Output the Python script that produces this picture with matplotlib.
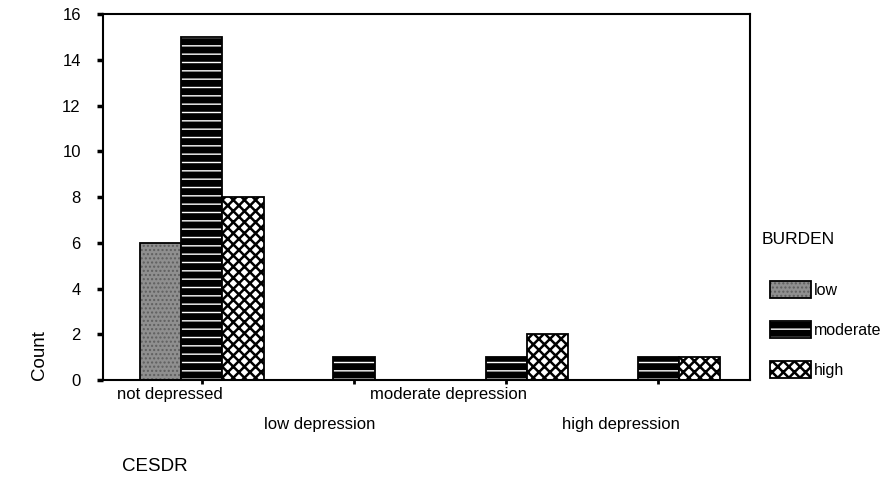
import numpy as np
import matplotlib.pyplot as plt
from matplotlib.patches import Patch, Rectangle
from matplotlib.legend_handler import HandlerTuple, HandlerPatch

plt.rcParams['font.family'] = ['Liberation Sans', 'DejaVu Sans']
plt.rcParams['hatch.linewidth'] = 1.0

categories = ["not depressed", "low depression", "moderate depression", "high depression"]
burden = ["low", "moderate", "high"]
low = [6, 0, 0, 0]
moderate = [15, 1, 1, 1]
high = [8, 0, 2, 1]

fig = plt.figure(figsize=(8.84, 4.8), dpi=100)
ax = fig.add_axes([0.1165, 0.2083, 0.7315, 0.7625])

x = np.arange(len(categories))
w = 0.27


def thick(patches, lw=1.8):
    for p in patches:
        try:
            p.set_hatch_linewidth(lw)
        except AttributeError:
            pass


# low: grey speckled
ax.bar(x - w, low, w, color="#8f8f8f", hatch="....", edgecolor="#5f5f5f", linewidth=0)
ax.bar(x - w, low, w, fill=False, edgecolor="black", linewidth=1.3)
# moderate: black with white horizontal lines
ax.bar(x, moderate, w, color="black", hatch="--", edgecolor="white", linewidth=0)
ax.bar(x, moderate, w, fill=False, edgecolor="black", linewidth=1.3)
# high: white with black cross-hatch
hb = ax.bar(x + w, high, w, color="white", hatch="xxx", edgecolor="black", linewidth=1.3)
thick(hb)

ax.set_xlim(-0.65, 3.6)
ax.set_ylim(0, 16)
ax.set_yticks(range(0, 17, 2))
ax.tick_params(axis='y', length=4, width=2.5, labelsize=12, pad=12)
ax.set_xticks(x)
ax.set_xticklabels([])
ax.tick_params(axis='x', length=3, width=2)
for s in ax.spines.values():
    s.set_linewidth(1.5)

for i, c in enumerate(categories):
    ax.text(i + 0.14, -0.3 if i % 2 == 0 else -1.6, c, ha='right', va='top',
            fontsize=12, transform=ax.transData)

fig.text(0.045, 0.26, "Count", rotation=90, ha='center', va='center', fontsize=13.5)
fig.text(0.138, 0.01, "CESDR", ha='left', va='bottom', fontsize=13.5)
fig.text(0.862, 0.5, "BURDEN", ha='left', va='center', fontsize=12.5)


def thick_patch(legend, orig_handle, xdescent, ydescent, width, height, fontsize):
    r = Rectangle((-xdescent, -ydescent), width, height)
    thick([r])
    return r


h_low = (Patch(facecolor="#8f8f8f", hatch="....", edgecolor="#5f5f5f", linewidth=0),
         Patch(fill=False, edgecolor="black", linewidth=1.3))
h_mod = (Patch(facecolor="black", hatch="--", edgecolor="white", linewidth=0),
         Patch(fill=False, edgecolor="black", linewidth=1.3))
h_high = Patch(facecolor="white", hatch="xxx", edgecolor="black", linewidth=1.3)
leg = fig.legend([h_low, h_mod, h_high], burden,
                 handler_map={tuple: HandlerTuple(ndivide=1, pad=0),
                              h_high: HandlerPatch(patch_func=thick_patch)},
                 loc='upper left', bbox_to_anchor=(0.858, 0.438), frameon=False,
                 fontsize=11.5, handlelength=2.6, handleheight=1.25,
                 labelspacing=1.45, handletextpad=0.15, borderpad=0.2)

fig.savefig("out.png", dpi=100)
